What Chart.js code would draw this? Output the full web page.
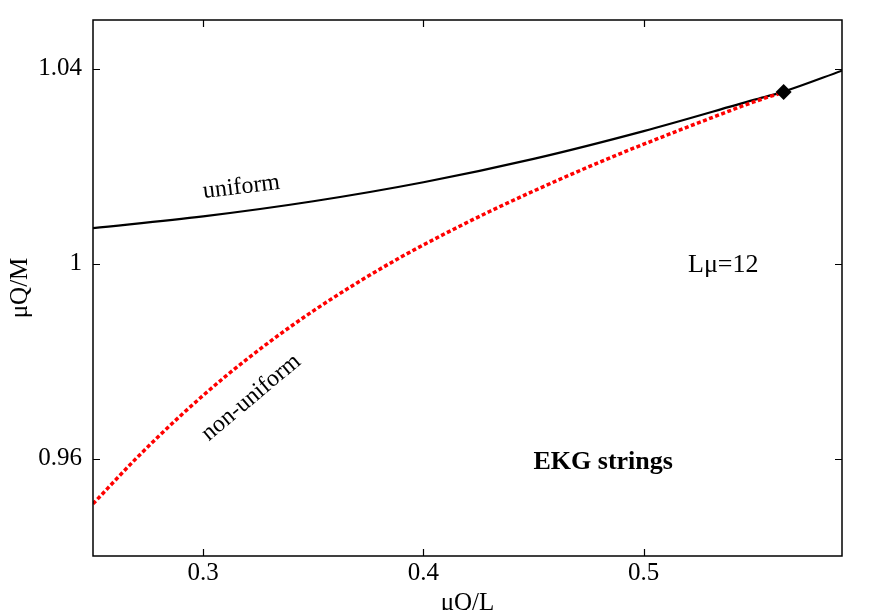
<!DOCTYPE html>
<html>
<head>
<meta charset="utf-8">
<script src="https://cdn.jsdelivr.net/npm/chart.js@4.4.1/dist/chart.umd.min.js"></script>
<style>
  html, body { margin: 0; padding: 0; background: #ffffff; }
  #wrap { width: 872px; height: 610px; }
</style>
</head>
<body>
<div id="wrap"><canvas id="c" width="872" height="610"></canvas></div>
<script>
// ---- data ----
const uniformX = [0.25, 0.30, 0.35, 0.40, 0.45, 0.50, 0.55, 0.5635, 0.59];
const uniformY = [1.0073, 1.0097, 1.0128, 1.0167, 1.0215, 1.0272, 1.0336, 1.0353, 1.0396];

const nonUniformX = [0.25, 0.27, 0.29, 0.31, 0.33, 0.35, 0.37, 0.39, 0.41, 0.43, 0.45, 0.47, 0.49, 0.51, 0.53, 0.55, 0.5635];
const nonUniformY = [0.9507, 0.9602, 0.9689, 0.9768, 0.9839, 0.9903, 0.9961, 1.0014, 1.0062, 1.0107, 1.0149, 1.0189, 1.0227, 1.0263, 1.0298, 1.0332, 1.0352];

const markerX = [0.5635];
const markerY = [1.0352];

const xTicks = [0.3, 0.4, 0.5];
const yTicks = [0.96, 1, 1.04];
const xTickLabels = ['0.3', '0.4', '0.5'];
const yTickLabels = ['0.96', '1', '1.04'];

const xTitle = 'μQ/L';
const yTitle = 'μQ/M';

// text annotations (anchored in data coordinates)
const notes = [
  { text: 'uniform',     x: 0.3174, y: 1.0157, angle: -7,  bold: false, size: 24 },
  { text: 'non-uniform', x: 0.3218, y: 0.9725, angle: -40, bold: false, size: 24 },
  { text: 'Lμ=12',       x: 0.5361, y: 0.9997, angle: 0,   bold: false, size: 26 },
  { text: 'EKG strings', x: 0.4816, y: 0.9593, angle: 0,   bold: true,  size: 26 }
];

const FONT = '"Liberation Serif", "Times New Roman", serif';

function pts(xs, ys) { return xs.map((x, i) => ({ x: x, y: ys[i] })); }

const framePlugin = {
  id: 'frameAndText',
  afterDatasetsDraw(chart) {
    const ctx = chart.ctx;
    const a = chart.chartArea;
    const sx = chart.scales.x, sy = chart.scales.y;
    ctx.save();
    ctx.strokeStyle = '#000';
    ctx.lineWidth = 1.5;
    ctx.strokeRect(a.left, a.top, a.right - a.left, a.bottom - a.top);
    // inward tick marks on all four sides
    const tl = 7;
    ctx.beginPath();
    xTicks.forEach(v => {
      const px = Math.round(sx.getPixelForValue(v)) + 0.5;
      ctx.moveTo(px, a.bottom); ctx.lineTo(px, a.bottom - tl);
      ctx.moveTo(px, a.top); ctx.lineTo(px, a.top + tl);
    });
    yTicks.forEach(v => {
      const py = Math.round(sy.getPixelForValue(v)) + 0.5;
      ctx.moveTo(a.left, py); ctx.lineTo(a.left + tl, py);
      ctx.moveTo(a.right, py); ctx.lineTo(a.right - tl, py);
    });
    ctx.lineWidth = 1.2;
    ctx.stroke();

    // axis titles
    ctx.fillStyle = '#000';
    ctx.font = '25px ' + FONT;
    ctx.textAlign = 'center';
    ctx.textBaseline = 'alphabetic';
    ctx.fillText(xTitle, (a.left + a.right) / 2, 610);
    ctx.save();
    ctx.translate(27, (a.top + a.bottom) / 2);
    ctx.rotate(-Math.PI / 2);
    ctx.fillText(yTitle, 0, 0);
    ctx.restore();

    // annotations
    notes.forEach(n => {
      const px = sx.getPixelForValue(n.x), py = sy.getPixelForValue(n.y);
      ctx.save();
      ctx.translate(px, py);
      ctx.rotate(n.angle * Math.PI / 180);
      ctx.font = (n.bold ? 'bold ' : '') + n.size + 'px ' + FONT;
      ctx.textAlign = 'center';
      ctx.textBaseline = 'middle';
      ctx.fillText(n.text, 0, 0);
      ctx.restore();
    });
    ctx.restore();
  }
};

new Chart(document.getElementById('c'), {
  type: 'scatter',
  data: {
    datasets: [
      {
        label: 'marker',
        data: pts(markerX, markerY),
        showLine: false,
        pointStyle: 'rectRot',
        pointRadius: 8,
        backgroundColor: '#000',
        borderColor: '#000',
        borderWidth: 0
      },
      {
        label: 'non-uniform',
        data: pts(nonUniformX, nonUniformY),
        showLine: true,
        borderColor: '#ff0000',
        borderWidth: 3.5,
        borderDash: [4, 2.5],
        borderCapStyle: 'butt',
        pointRadius: 0,
        cubicInterpolationMode: 'monotone',
        fill: false
      },
      {
        label: 'uniform',
        data: pts(uniformX, uniformY),
        showLine: true,
        borderColor: '#000000',
        borderWidth: 2.2,
        pointRadius: 0,
        cubicInterpolationMode: 'monotone',
        fill: false
      }
    ]
  },
  options: {
    responsive: false,
    animation: false,
    events: [],
    layout: { padding: { top: 20, right: 30, left: 0, bottom: 0 } },
    plugins: { legend: { display: false }, tooltip: { enabled: false }, title: { display: false } },
    scales: {
      x: {
        type: 'linear',
        position: 'bottom',
        min: 0.25,
        max: 0.59,
        grid: { display: false, drawTicks: false },
        border: { display: false },
        afterBuildTicks: s => { s.ticks = xTicks.map(v => ({ value: v })); },
        afterFit: s => { s.height = 54; s.paddingLeft = 0; s.paddingRight = 0; },
        ticks: {
          color: '#000',
          padding: 2,
          maxRotation: 0,
          font: { family: FONT, size: 25 },
          callback: (v) => { const i = xTicks.indexOf(v); return i >= 0 ? xTickLabels[i] : ''; }
        }
      },
      y: {
        type: 'linear',
        position: 'left',
        min: 0.94,
        max: 1.05,
        grid: { display: false, drawTicks: false },
        border: { display: false },
        afterBuildTicks: s => { s.ticks = yTicks.map(v => ({ value: v })); },
        afterFit: s => { s.width = 93; s.paddingTop = 0; s.paddingBottom = 0; },
        ticks: {
          color: '#000',
          padding: 11,
          font: { family: FONT, size: 25 },
          callback: (v) => { const i = yTicks.indexOf(v); return i >= 0 ? yTickLabels[i] : ''; }
        }
      }
    }
  },
  plugins: [framePlugin]
});
</script>
</body>
</html>
